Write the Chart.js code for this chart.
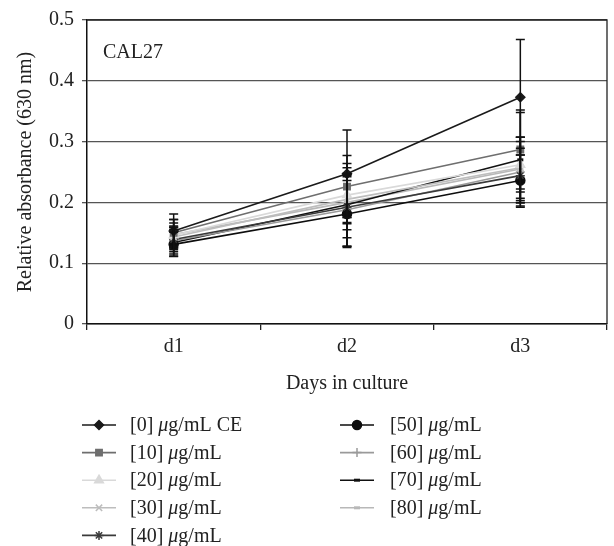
<!DOCTYPE html>
<html>
<head>
<meta charset="utf-8">
<script src="https://cdn.jsdelivr.net/npm/chart.js@4/dist/chart.umd.min.js"></script>
<style>
html,body{margin:0;padding:0;background:#fff;}
#wrap{width:614px;height:546px;position:relative;}
</style>
</head>
<body>
<div id="wrap"><canvas id="c" width="614" height="546"></canvas></div>
<script>
const categories = ['d1', 'd2', 'd3'];
const seriesLabels = ['[0]', '[10]', '[20]', '[30]', '[40]', '[50]', '[60]', '[70]', '[80]'];
const seriesSuffix = [' CE', '', '', '', '', '', '', '', ''];
const conc0  = [0.153, 0.247, 0.373];
const conc10 = [0.150, 0.226, 0.287];
const conc20 = [0.146, 0.212, 0.262];
const conc30 = [0.143, 0.205, 0.257];
const conc40 = [0.139, 0.192, 0.244];
const conc50 = [0.131, 0.181, 0.236];
const conc60 = [0.137, 0.188, 0.250];
const conc70 = [0.134, 0.196, 0.270];
const conc80 = [0.147, 0.200, 0.255];
const err0  = [0.028, 0.072, 0.095];
const err10 = [0.022, 0.051, 0.065];
const err20 = [0.020, 0.045, 0.045];
const err30 = [0.018, 0.040, 0.050];
const err40 = [0.020, 0.050, 0.045];
const err50 = [0.020, 0.055, 0.042];
const err60 = [0.022, 0.060, 0.050];
const err70 = [0.022, 0.068, 0.078];
const err80 = [0.025, 0.045, 0.052];
const yTicks = [0, 0.1, 0.2, 0.3, 0.4, 0.5];

const values = [conc0, conc10, conc20, conc30, conc40, conc50, conc60, conc70, conc80];
const errors = [err0, err10, err20, err30, err40, err50, err60, err70, err80];
const colors = ['#1a1a1a', '#6e6e6e', '#d9d9d9', '#bdbdbd', '#3a3a3a', '#0d0d0d', '#9a9a9a', '#111111', '#b8b8b8'];
const styles = ['rectRot', 'rect', 'triangle', 'crossRot', 'star', 'circle', 'cross', 'line', 'line'];
const radii  = [4.5, 4.5, 5, 4.5, 4.5, 4.5, 4.5, 3, 3];
const pbw    = [1.5, 1.5, 1.5, 1.5, 1.5, 1.5, 1.5, 3, 3];

const FONT = '"Liberation Serif", "DejaVu Serif", serif';
const FS = 20;

const datasets = values.map((v, i) => ({
  label: seriesLabels[i] + ' μg/mL' + seriesSuffix[i],
  data: v,
  errors: errors[i],
  borderColor: colors[i],
  backgroundColor: colors[i],
  pointBackgroundColor: colors[i],
  pointBorderColor: colors[i],
  pointStyle: styles[i],
  pointRadius: radii[i],
  pointBorderWidth: pbw[i],
  borderWidth: 1.6,
  tension: 0,
  fill: false
}));

const errorBarPlugin = {
  id: 'errorBars',
  afterDatasetsDraw(chart) {
    const ctx = chart.ctx;
    const y = chart.scales.y;
    ctx.save();
    ctx.strokeStyle = '#111';
    ctx.lineWidth = 1.5;
    chart.data.datasets.forEach((ds, i) => {
      const meta = chart.getDatasetMeta(i);
      meta.data.forEach((pt, j) => {
        const e = ds.errors[j];
        const top = y.getPixelForValue(ds.data[j] + e);
        const bot = y.getPixelForValue(ds.data[j] - e);
        ctx.beginPath();
        ctx.moveTo(pt.x, top); ctx.lineTo(pt.x, bot);
        ctx.moveTo(pt.x - 4.5, top); ctx.lineTo(pt.x + 4.5, top);
        ctx.moveTo(pt.x - 4.5, bot); ctx.lineTo(pt.x + 4.5, bot);
        ctx.stroke();
      });
    });
    ctx.restore();
  }
};

const framePlugin = {
  id: 'frame',
  afterDraw(chart) {
    const ctx = chart.ctx;
    const a = chart.chartArea;
    ctx.save();
    ctx.strokeStyle = '#222';
    ctx.lineWidth = 1.3;
    ctx.beginPath();
    ctx.moveTo(a.left, a.top); ctx.lineTo(a.right, a.top); ctx.lineTo(a.right, a.bottom);
    ctx.stroke();
    ctx.fillStyle = '#222';
    ctx.font = FS + 'px ' + FONT;
    ctx.textBaseline = 'alphabetic';
    ctx.fillText('CAL27', a.left + 16, a.top + 38);
    ctx.restore();
  }
};

const legendPlugin = {
  id: 'customLegend',
  afterDraw(chart) {
    const ctx = chart.ctx;
    ctx.save();
    chart.data.datasets.forEach((ds, i) => {
      const col = i < 5 ? 0 : 1;
      const row = i < 5 ? i : i - 5;
      const x0 = col === 0 ? 82 : 340;
      const x1 = x0 + 34;
      const tx = col === 0 ? 130 : 390;
      const cy = 425 + row * 27.6;
      ctx.strokeStyle = ds.borderColor;
      ctx.lineWidth = ds.borderWidth;
      ctx.beginPath(); ctx.moveTo(x0, cy); ctx.lineTo(x1, cy); ctx.stroke();
      ctx.fillStyle = ds.pointBackgroundColor;
      ctx.lineWidth = ds.pointBorderWidth;
      Chart.helpers.drawPoint(ctx, {pointStyle: ds.pointStyle, radius: ds.pointRadius, rotation: 0, borderWidth: ds.pointBorderWidth}, (x0 + x1) / 2, cy);
      ctx.fillStyle = '#222';
      ctx.textBaseline = 'middle';
      let x = tx;
      const parts = [[seriesLabels[i] + ' ', 'normal'], ['μ', 'italic'], ['g/mL' + seriesSuffix[i], 'normal']];
      parts.forEach(p => {
        ctx.font = p[1] + ' ' + FS + 'px ' + FONT;
        ctx.fillText(p[0], x, cy + 1);
        x += ctx.measureText(p[0]).width;
      });
    });
    ctx.restore();
  }
};

new Chart(document.getElementById('c'), {
  type: 'line',
  data: { labels: categories, datasets },
  plugins: [errorBarPlugin, framePlugin, legendPlugin],
  options: {
    responsive: false,
    animation: false,
    layout: { padding: { left: 0, right: 3, top: 12, bottom: 150 } },
    plugins: { legend: { display: false }, tooltip: { enabled: false } },
    scales: {
      x: {
        type: 'category',
        offset: true,
        grid: { offset: true, drawOnChartArea: false, drawTicks: true, tickLength: 6, color: '#222', lineWidth: 1.3 },
        border: { color: '#111', width: 1.5 },
        ticks: { color: '#222', font: { family: FONT, size: FS }, padding: 5 },
        title: { display: true, text: 'Days in culture', color: '#222', font: { family: FONT, size: FS }, padding: { top: 2, bottom: 0 } },
        afterFit(s) { s.height = 72; }
      },
      y: {
        min: 0, max: 0.5,
        afterBuildTicks(s) { s.ticks = yTicks.map(v => ({ value: v })); },
        grid: { drawOnChartArea: true, color: '#555', lineWidth: 1.3, tickLength: 5, drawTicks: true },
        border: { color: '#111', width: 1.5 },
        ticks: { color: '#222', font: { family: FONT, size: FS }, padding: 8 },
        title: { display: true, text: 'Relative absorbance (630 nm)', color: '#222', font: { family: FONT, size: FS }, padding: { top: 14, bottom: 6 } },
        afterFit(s) { s.width = 87; }
      }
    }
  }
});
</script>
</body>
</html>
